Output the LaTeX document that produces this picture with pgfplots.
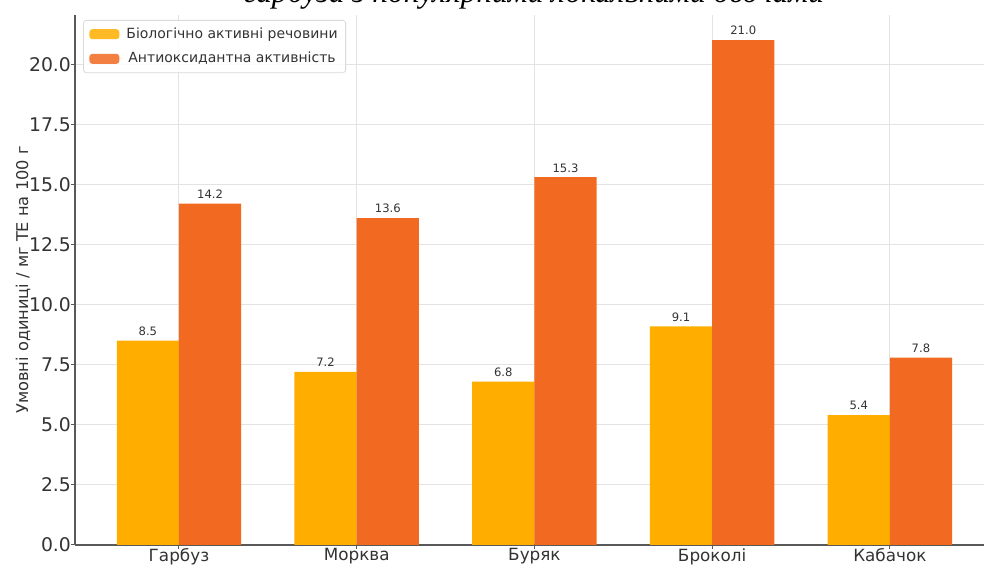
\documentclass[border=0pt]{standalone}
\usepackage{pgfplots}
\pgfplotsset{compat=1.18}
\usepackage{fontspec}
\setmainfont{DejaVu Sans}
\newfontfamily\titlefont{Liberation Serif}
\definecolor{cbio}{HTML}{FFAE00}
\definecolor{cant}{HTML}{F26A21}
\definecolor{gridc}{HTML}{E3E3E3}
\definecolor{txt}{HTML}{333333}
\begin{document}
\begin{tikzpicture}
  \begin{axis}[
      at={(0,0)}, anchor=south west,
      scale only axis,
      width=459.5pt, height=265pt,
      xmin=-0.585, xmax=4.586,
      ymin=0, ymax=22.05,
      axis x line*=bottom, axis y line*=left,
      axis line style={black!65, line width=0.6pt},
      xtick={0,1,2,3,4},
      xticklabels={Гарбуз, Морква, Буряк, Броколі, Кабачок},
      ytick={0,2.5,5,7.5,10,12.5,15,17.5,20},
      /pgf/number format/assume math mode=true,
      yticklabel style={/pgf/number format/fixed, /pgf/number format/fixed zerofill,
        /pgf/number format/precision=1, font=\fontsize{9.4}{11}\selectfont, xshift=3.5pt},
      tick label style={color=txt},
      xticklabel style={font=\fontsize{8.4}{10}\selectfont, yshift=3.8pt},
      tick align=outside,
      major tick length=2pt,
      tick style={black!65, line width=0.5pt},
      xmajorgrids, ymajorgrids,
      grid style={gridc, line width=0.5pt},
      ylabel={Умовні одиниці / мг ТЕ на 100 г},
      ylabel style={font=\fontsize{8.1}{10}\selectfont, color=txt, yshift=-7.5pt},
      ybar, bar width=0.35,
      nodes near coords,
      nodes near coords style={font=\fontsize{5.8}{7}\selectfont, color=txt, yshift=-1pt,
        /pgf/number format/fixed, /pgf/number format/fixed zerofill,
        /pgf/number format/precision=1},
      legend style={at={(axis description cs:0,1)}, anchor=north west,
        xshift=4pt, yshift=-2.5pt,
        font=\fontsize{7}{8}\selectfont, text=txt,
        draw=black!15, rounded corners=1.5pt, fill=white, fill opacity=0.85, text opacity=1,
        inner xsep=2pt, inner ysep=1.5pt, row sep=1.5pt},
      legend image code/.code={\path (0pt,0pt) -- (17.5pt,0pt);
        \fill[#1] (1pt,-2.5pt) rectangle (16pt,2.5pt);},
    ]
    \addplot[fill=cbio, draw=none, bar shift=-0.175] coordinates {(0,8.5) (1,7.2) (2,6.8) (3,9.1) (4,5.4)};
    \addlegendentry{Біологічно активні речовини}
    \addplot[fill=cant, draw=none, bar shift=0.175] coordinates {(0,14.2) (1,13.6) (2,15.3) (3,21.0) (4,7.8)};
    \addlegendentry{Антиоксидантна активність}
  \end{axis}
  \node[font=\titlefont\itshape\fontsize{15.7}{18}\selectfont, anchor=base] at (229.5pt,271pt)
    {гарбуза з популярними локальними овочами};
  \pgfresetboundingbox
  \useasboundingbox (-37.5pt,-10pt) rectangle (454.5pt,272.5pt);
\end{tikzpicture}
\end{document}
